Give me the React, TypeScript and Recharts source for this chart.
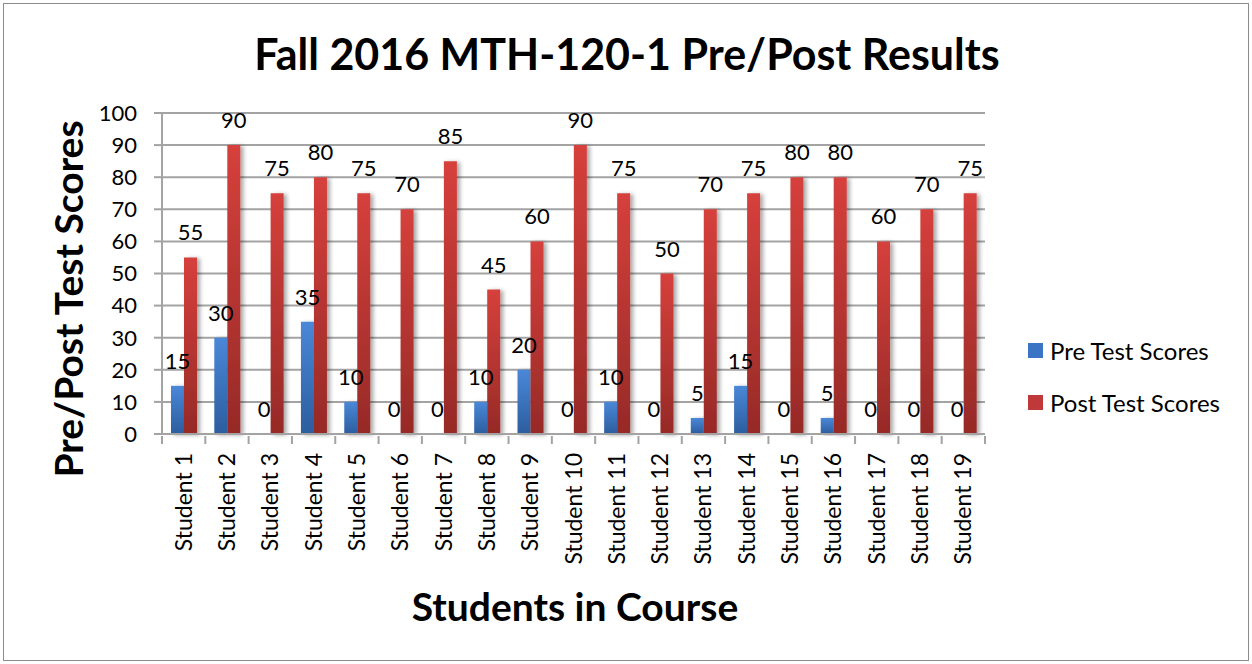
import { Bar, BarChart, CartesianGrid, LabelList, Legend, XAxis, YAxis } from "recharts";

const students = [
  "Student 1", "Student 2", "Student 3", "Student 4", "Student 5", "Student 6", "Student 7",
  "Student 8", "Student 9", "Student 10", "Student 11", "Student 12", "Student 13", "Student 14",
  "Student 15", "Student 16", "Student 17", "Student 18", "Student 19"
];
const preScores = [15, 30, 0, 35, 10, 0, 0, 10, 20, 0, 10, 0, 5, 15, 0, 5, 0, 0, 0];
const postScores = [55, 90, 75, 80, 75, 70, 85, 45, 60, 90, 75, 50, 70, 75, 80, 80, 60, 70, 75];
const yTicks = [0, 10, 20, 30, 40, 50, 60, 70, 80, 90, 100];

const data = students.map((name, i) => ({ name, pre: preScores[i], post: postScores[i] }));

const W = 1252;
const H = 664;
const PLOT_LEFT = 162;
const PLOT_RIGHT = 985;
const BAND = (PLOT_RIGHT - PLOT_LEFT) / students.length;
const FONT = "Lato, 'Open Sans', sans-serif";
const GRID = "#a3a3a3";

function StudentTick(props: any) {
  const { x, y, payload } = props;
  const last = payload.index === students.length - 1;
  return (
    <g>
      <line x1={x - BAND / 2} y1={y} x2={x - BAND / 2} y2={y + 8} stroke={GRID} strokeWidth={2} />
      {last && <line x1={x + BAND / 2} y1={y} x2={x + BAND / 2} y2={y + 8} stroke={GRID} strokeWidth={2} />}
      <text
        x={x}
        y={y + 17}
        dy="0.35em"
        transform={`rotate(-90 ${x} ${y + 17})`}
        textAnchor="end"
        fontSize={23}
        fontFamily={FONT}
        fill="#000"
      >
        {payload.value}
      </text>
    </g>
  );
}

// draws the value above the bar, zero values included
function ValueLabel(props: any) {
  const { x, y, width, height, value } = props;
  const top = Math.min(y, y + height);
  return (
    <text x={x + width / 2} y={top - 17} textAnchor="middle" fontSize={22} fontFamily={FONT} fill="#000">
      {value}
    </text>
  );
}

function LegendBox() {
  const items = [
    { label: "Pre Test Scores", color: "#3b74c4" },
    { label: "Post Test Scores", color: "#c0393a" }
  ];
  return (
    <div style={{ fontFamily: FONT, fontSize: 24, color: "#000" }}>
      {items.map((it, i) => (
        <div key={it.label} style={{ display: "flex", alignItems: "center", height: 26, marginBottom: i === 0 ? 26 : 0 }}>
          <svg width={15} height={15} style={{ marginRight: 7 }}>
            <rect width={15} height={15} fill={it.color} />
          </svg>
          <span>{it.label}</span>
        </div>
      ))}
    </div>
  );
}

export default function App() {
  return (
    <div style={{ position: "absolute", left: 0, top: 0, width: W, height: H, background: "#fff" }}>
      <div
        style={{
          position: "absolute",
          left: 3,
          top: 3,
          width: W - 8,
          height: H - 8,
          border: "1px solid #8c8c8c"
        }}
      />
      <div
        style={{
          position: "absolute",
          left: 627,
          top: 53,
          transform: "translate(-50%, -50%)",
          whiteSpace: "nowrap",
          fontFamily: FONT,
          fontWeight: 700,
          fontSize: 43,
          color: "#000"
        }}
      >
        Fall 2016 MTH-120-1 Pre/Post Results
      </div>
      <div
        style={{
          position: "absolute",
          left: 575,
          top: 606,
          transform: "translate(-50%, -50%)",
          whiteSpace: "nowrap",
          fontFamily: FONT,
          fontWeight: 700,
          fontSize: 39,
          color: "#000"
        }}
      >
        Students in Course
      </div>
      <div
        style={{
          position: "absolute",
          left: 68,
          top: 299,
          transform: "translate(-50%, -50%) rotate(-90deg)",
          whiteSpace: "nowrap",
          fontFamily: FONT,
          fontWeight: 700,
          fontSize: 39,
          color: "#000"
        }}
      >
        Pre/Post Test Scores
      </div>
      <div style={{ position: "absolute", left: 0, top: 0 }}>
        <BarChart
          width={W}
          height={H}
          data={data}
          margin={{ top: 113, right: W - PLOT_RIGHT, bottom: 80, left: PLOT_LEFT - 60 }}
          barGap={0}
          barSize={13}
        >
          <defs>
            <linearGradient id="preFill" x1="0" y1="0" x2="0" y2="1">
              <stop offset="0%" stopColor="#4a88d8" />
              <stop offset="100%" stopColor="#2c5d9e" />
            </linearGradient>
            <linearGradient id="postFill" x1="0" y1="0" x2="0" y2="1">
              <stop offset="0%" stopColor="#d6403c" />
              <stop offset="100%" stopColor="#962a27" />
            </linearGradient>
            <filter id="barShadow" x="-50%" y="-10%" width="200%" height="120%">
              <feDropShadow dx={3} dy={1} stdDeviation={2} floodColor="#000" floodOpacity={0.35} />
            </filter>
          </defs>
          <CartesianGrid vertical={false} stroke={GRID} strokeWidth={2} />
          <XAxis
            dataKey="name"
            interval={0}
            height={150}
            tickLine={false}
            tickSize={0}
            axisLine={{ stroke: GRID, strokeWidth: 2 }}
            tick={<StudentTick />}
          />
          <YAxis
            domain={[0, 100]}
            ticks={yTicks}
            width={60}
            interval={0}
            tickSize={8}
            tickMargin={17}
            axisLine={{ stroke: GRID, strokeWidth: 2 }}
            tickLine={{ stroke: GRID, strokeWidth: 2 }}
            tick={{ fill: "#000", fontSize: 22, fontFamily: FONT }}
          />
          <Legend
            layout="vertical"
            align="center"
            verticalAlign="middle"
            content={<LegendBox />}
            wrapperStyle={{ left: 1028, top: 337, width: 224 }}
          />
          <Bar dataKey="pre" name="Pre Test Scores" fill="url(#preFill)" filter="url(#barShadow)" minPointSize={0.01} isAnimationActive={false}>
            <LabelList dataKey="pre" content={<ValueLabel />} />
          </Bar>
          <Bar dataKey="post" name="Post Test Scores" fill="url(#postFill)" filter="url(#barShadow)" isAnimationActive={false}>
            <LabelList dataKey="post" content={<ValueLabel />} />
          </Bar>
        </BarChart>
      </div>
    </div>
  );
}
